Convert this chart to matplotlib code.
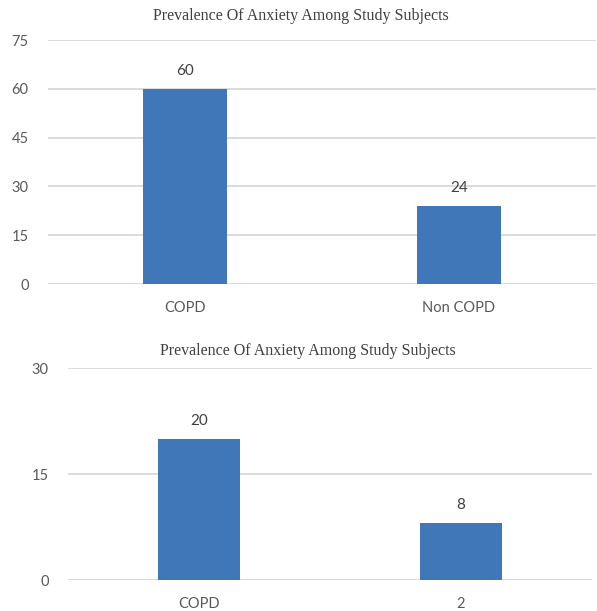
import matplotlib
matplotlib.use("Agg")
import matplotlib.pyplot as plt

title = "Prevalence Of Anxiety Among Study Subjects"
top_categories = ["COPD", "Non COPD"]
top_values = [60, 24]
top_ticks = [0, 15, 30, 45, 60, 75]
bottom_categories = ["COPD", "2"]
bottom_values = [20, 8]
bottom_ticks = [0, 15, 30]

bar_color = "#3f77b9"
grid_color = "#d9d9d9"
text_color = "#595959"
label_font = ["Lato", "DejaVu Sans"]
title_font = ["Liberation Serif", "DejaVu Serif"]

fig = plt.figure(figsize=(5.97, 6.11), dpi=100)
fig.patch.set_facecolor("white")

def draw(ax, cats, vals, ticks):
    x = list(range(len(cats)))
    ax.bar(x, vals, width=0.31, color=bar_color, zorder=3)
    ax.set_xlim(-0.5, len(cats) - 0.5)
    ax.set_ylim(ticks[0], ticks[-1])
    ax.set_yticks(ticks)
    ax.set_yticklabels([str(t) for t in ticks], fontfamily=label_font, fontsize=10.5, color=text_color)
    ax.set_xticks(x)
    ax.set_xticklabels(cats, fontfamily=label_font, fontsize=10.5, color=text_color)
    ax.tick_params(axis="both", length=0)
    ax.tick_params(axis="y", pad=14)
    ax.tick_params(axis="x", pad=12)
    ax.grid(axis="y", color=grid_color, linewidth=1.3, zorder=0)
    for s in ax.spines.values():
        s.set_visible(False)
    ax.set_axisbelow(True)
    for xi, v in zip(x, vals):
        ax.annotate(str(v), (xi, v), xytext=(0, 8), textcoords="offset points",
                    ha="center", va="bottom", fontfamily=label_font, fontsize=11,
                    color="#404040")

ax1 = fig.add_axes([48/597, 1 - 284/611, 548/597, 244/611])
draw(ax1, top_categories, top_values, top_ticks)
ax1.axhline(0, color=grid_color, linewidth=1.3, zorder=1)

ax2 = fig.add_axes([68/597, 1 - 580/611, 524/597, 212/611])
draw(ax2, bottom_categories, bottom_values, bottom_ticks)
ax2.axhline(0, color=grid_color, linewidth=1.3, zorder=1)

fig.text(301/597, 1 - 16/611, title, ha="center", va="center",
         fontfamily=title_font, fontsize=11.5, color="#404040")
fig.text(308/597, 1 - 351/611, title, ha="center", va="center",
         fontfamily=title_font, fontsize=11.5, color="#404040")

fig.savefig("out.png", dpi=100, facecolor="white")
